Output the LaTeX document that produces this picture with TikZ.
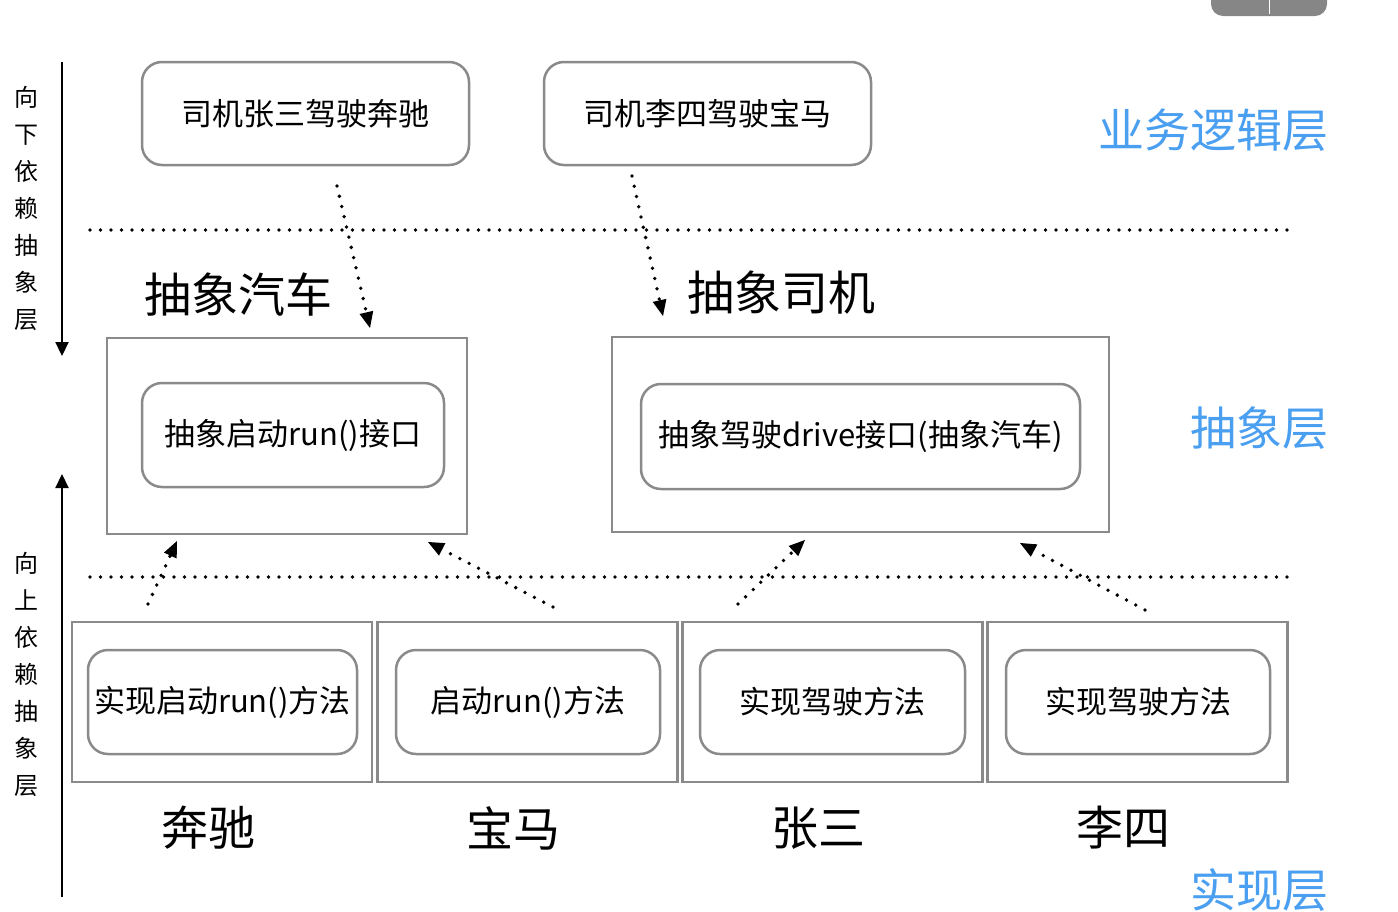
\documentclass[tikz,border=0pt]{standalone}
\usepackage{fontspec}
\setmainfont{Noto Sans CJK SC}
\usetikzlibrary{arrows.meta}
\definecolor{boxgray}{HTML}{8A8A8A}
\definecolor{layerblue}{HTML}{4A9FF0}
\tikzset{
  outerbox/.style={draw=boxgray, line width=2.5pt, inner sep=0pt},
  innerbox/.style={draw=boxgray, line width=2.5pt, rounded corners=20pt, inner sep=0pt, font=\fontsize{31}{33}\selectfont},
  bigtext/.style={font=\fontsize{47}{49}\selectfont},
  layertext/.style={text=layerblue, font=\fontsize{46}{48}\selectfont, anchor=east},
  dotline/.style={line width=3.8pt, line cap=round, dash pattern=on 0pt off 10.5pt},
  deparrow/.style={dotline, -{Triangle[length=16pt, width=14pt, line width=0pt]}},
  sidearrow/.style={line width=2.2pt, -{Triangle[length=14pt, width=13pt]}},
  sidetext/.style={font=\fontsize{24}{37}\selectfont, align=center},
}
\begin{document}
\begin{tikzpicture}[x=1pt, y=-1pt]
  \useasboundingbox (0,0) rectangle (1398,911);

  % screenshot button at the top
  \fill[gray!95, rounded corners=12pt] (1211,-30) rectangle (1327,16);
  \draw[white, line width=1pt] (1269,0) -- (1269,14);

  % Business logic layer
  \node[innerbox, minimum width=327pt, minimum height=103pt] (zhangsan) at (305.5,113.5) {司机张三驾驶奔驰};
  \node[innerbox, minimum width=327pt, minimum height=103pt] (lisi) at (707.5,113.5) {司机李四驾驶宝马};

  % Layer separators
  \draw[dotline] (90,230) -- (1290,230);
  \draw[dotline] (90,577) -- (1290,577);

  % Abstraction layer
  \node[bigtext] (abscar) at (238,295) {抽象汽车};
  \node[bigtext] (absdriver) at (781,293) {抽象司机};
  \node[outerbox, minimum width=360pt, minimum height=196pt] (carbox) at (287,436) {};
  \node[innerbox, minimum width=302pt, minimum height=104pt] (runif) at (293,435) {抽象启动run()接口};
  \node[outerbox, minimum width=497pt, minimum height=195pt] (driverbox) at (860.5,434.5) {};
  \node[innerbox, minimum width=439pt, minimum height=105pt] (driveif) at (860.5,436.5) {抽象驾驶drive接口(抽象汽车)};

  % Implementation layer
  \foreach \name/\cx/\ix/\iw/\txt/\lbl in {
      benz/222/222.5/269/实现启动run()方法/奔驰,
      bmw/527.5/528/264/启动run()方法/宝马,
      zs/832.5/832.5/265/实现驾驶方法/张三,
      ls/1137.5/1138/264/实现驾驶方法/李四} {
    \node[outerbox, minimum width=300pt, minimum height=160pt] (\name box) at (\cx,702) {};
    \node[innerbox, minimum width=\iw pt, minimum height=104pt] (\name) at (\ix,702) {\txt};
    \node[bigtext] (\name label) at (\cx-14,828) {\lbl};
  }

  % Layer names
  \node[layertext] (bizlayer) at (1332,130) {业务逻辑层};
  \node[layertext] (abslayer) at (1332,428) {抽象层};
  \node[layertext] (impllayer) at (1332,890) {实现层};

  % Dependency directions
  \coordinate (downtop) at (62,62);
  \coordinate (downend) at (62,356);
  \coordinate (uptop) at (62,474);
  \coordinate (upend) at (62,897);
  \draw[sidearrow] (downtop) -- (downend);
  \draw[sidearrow] (upend) -- (uptop);
  \node[sidetext] (downtext) at (26,208) {向\\下\\依\\赖\\抽\\象\\层};
  \node[sidetext] (uptext) at (26,674) {向\\上\\依\\赖\\抽\\象\\层};

  % Dependency arrows
  \coordinate (zsfoot) at (337,186);
  \coordinate (lsfoot) at (632,176);
  \coordinate (carhead) at (370,328);
  \coordinate (driverhead) at (663,316);
  \coordinate (benzfoot) at (148,604);
  \coordinate (bmwfoot) at (553,607);
  \coordinate (zsimplfoot) at (738,604);
  \coordinate (lsimplfoot) at (1145,610);
  \coordinate (carleft) at (177,541);
  \coordinate (carright) at (428,542);
  \coordinate (drvleft) at (805,540);
  \coordinate (drvright) at (1020,543);
  \draw[deparrow] (zsfoot) -- (carhead);
  \draw[deparrow] (lsfoot) -- (driverhead);
  \draw[deparrow] (benzfoot) -- (carleft);
  \draw[deparrow] (bmwfoot) -- (carright);
  \draw[deparrow] (zsimplfoot) -- (drvleft);
  \draw[deparrow] (lsimplfoot) -- (drvright);
\end{tikzpicture}
\end{document}
